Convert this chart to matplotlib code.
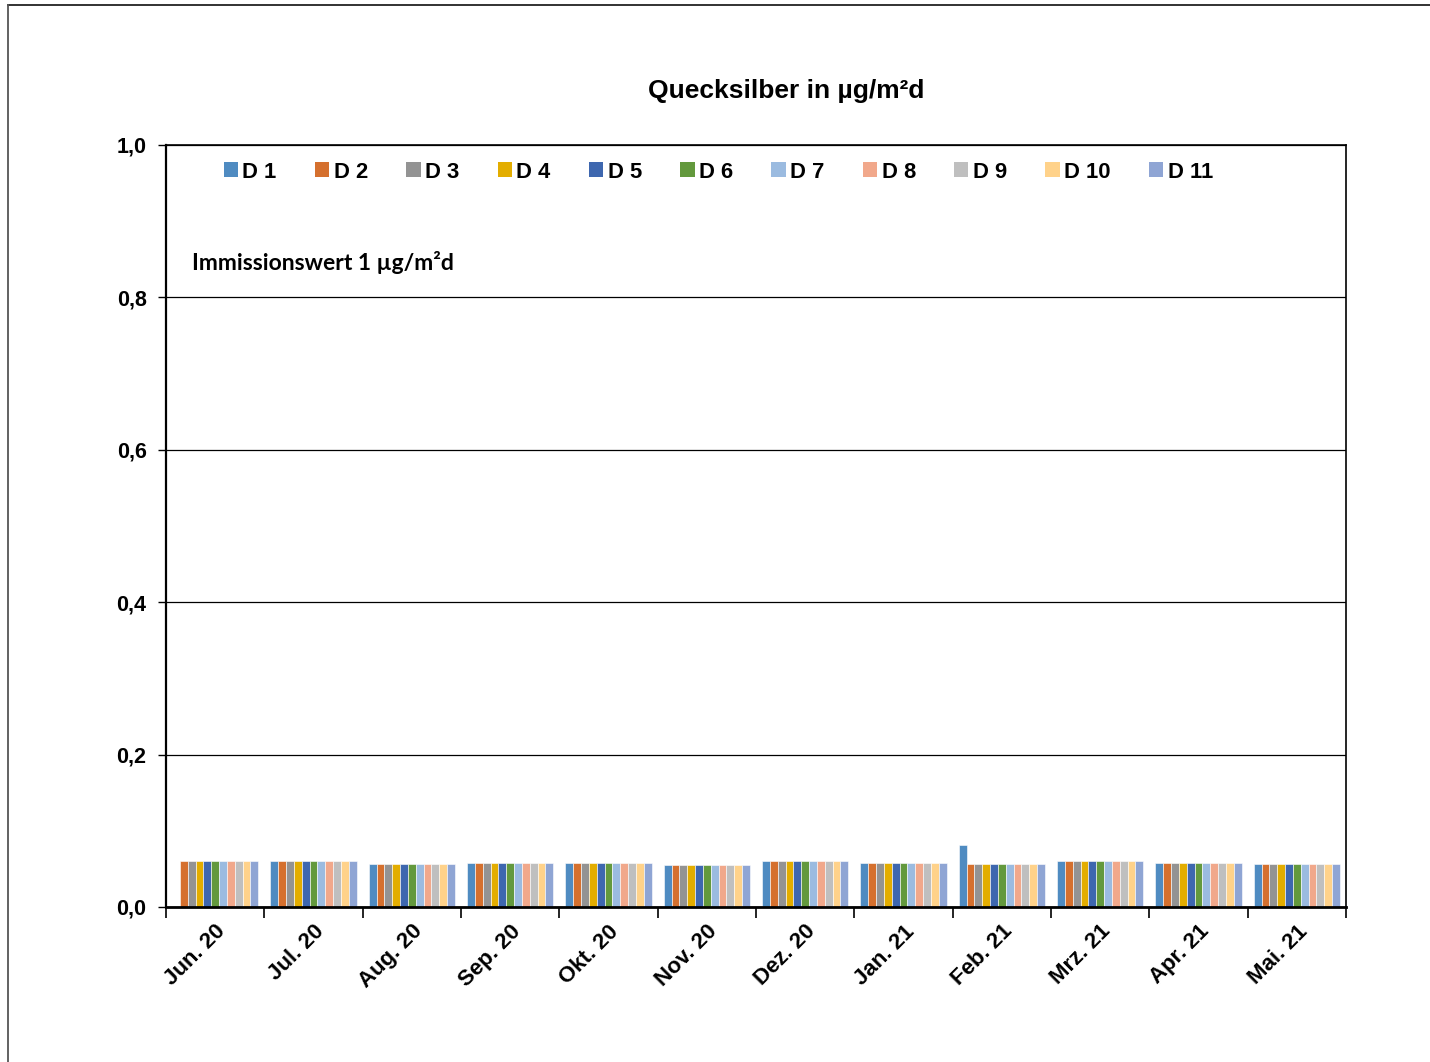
import matplotlib
matplotlib.use("Agg")
import matplotlib.pyplot as plt
import numpy as np
from matplotlib.lines import Line2D
from matplotlib.patches import Patch

months = ["Jun. 20", "Jul. 20", "Aug. 20", "Sep. 20", "Okt. 20", "Nov. 20",
          "Dez. 20", "Jan. 21", "Feb. 21", "Mrz. 21", "Apr. 21", "Mai. 21"]
series = ["D 1", "D 2", "D 3", "D 4", "D 5", "D 6", "D 7", "D 8", "D 9", "D 10", "D 11"]

# monthly level shared by D 2 ... D 11
base = [0.060, 0.060, 0.057, 0.058, 0.058, 0.055, 0.060, 0.058, 0.057, 0.060, 0.058, 0.057]
# D 1 (no value in Jun. 20)
d1 = [np.nan, 0.060, 0.057, 0.058, 0.058, 0.055, 0.060, 0.058, 0.082, 0.060, 0.058, 0.057]

values = {s: list(base) for s in series}
values["D 1"] = d1

colors = ["#4F8BC1", "#D5702E", "#939393", "#E3AD00", "#3E67AF", "#63993D",
          "#9BBBE0", "#F1A88B", "#BFBFBF", "#FFD28A", "#8FA5D4"]

yticks = [0.0, 0.2, 0.4, 0.6, 0.8, 1.0]
ytick_labels = ["0,0", "0,2", "0,4", "0,6", "0,8", "1,0"]

plt.rcParams["font.family"] = ["Liberation Sans", "DejaVu Sans"]

W, H = 1430, 1062
fig = plt.figure(figsize=(W / 100, H / 100), dpi=100)
ax = fig.add_axes([166 / W, 1 - 907 / H, (1346 - 166) / W, (907 - 145) / H])

n = len(series)
group = 0.875
bw = group / n
x = np.arange(len(months)) + 0.5
for i, s in enumerate(series):
    offs = -group / 2 + bw * (i + 0.5)
    ax.bar(x + offs, values[s], width=bw, color=colors[i],
           edgecolor="#FFFFFF", linewidth=0.4, zorder=3)

ax.set_xlim(0, len(months))
ax.set_ylim(0, 1.0)
ax.set_yticks(yticks)
ax.set_yticklabels(ytick_labels, fontsize=15.5, fontweight="bold")
ax.tick_params(axis="y", length=6, width=1, direction="out", pad=8)
ax.grid(axis="y", color="black", linewidth=0.9, zorder=1)

ax.set_xticks(np.arange(len(months) + 1))
ax.set_xticklabels([])
ax.tick_params(axis="x", which="major", length=8, width=1.2, direction="out")
ax.set_xticks(x, minor=True)
ax.set_xticklabels(months, minor=True, rotation=45, ha="right", va="top",
                   rotation_mode="anchor", fontsize=16, fontweight="bold")
ax.tick_params(axis="x", which="minor", length=0, pad=10)

for sp in ax.spines.values():
    sp.set_color("black")
    sp.set_linewidth(1.2)
    sp.set_zorder(5)
ax.spines["bottom"].set_linewidth(2)
ax.spines["left"].set_linewidth(1.6)

ax.text(192 / W, 1 - 263 / H, "Immissionswert 1 µg/m²d", transform=fig.transFigure,
        fontsize=16.5, fontweight="bold", family=["Lato", "DejaVu Sans"],
        ha="left", va="center")

fig.text(786 / W, 1 - 91 / H, "Quecksilber in µg/m²d", fontsize=19,
         fontweight="bold", ha="center", va="center")

handles = [Patch(facecolor=c, edgecolor="none") for c in colors]
leg = ax.legend(handles, series, ncol=n, loc="center left",
                bbox_to_anchor=(204 / W, 1 - 172 / H), bbox_transform=fig.transFigure,
                frameon=False, handlelength=0.65, handleheight=0.65,
                handletextpad=0.2, columnspacing=1.75,
                prop={"size": 15.8, "weight": "bold"})

# outer chart frame (top and left edges)
fig.add_artist(Line2D([8 / W, 1.0], [1 - 5 / H, 1 - 5 / H], transform=fig.transFigure,
                      color="#222222", linewidth=1.3))
fig.add_artist(Line2D([8 / W, 8 / W], [1 - 5 / H, 0.0], transform=fig.transFigure,
                      color="#555555", linewidth=1.3))

fig.savefig("out.png", dpi=100, facecolor="white")
